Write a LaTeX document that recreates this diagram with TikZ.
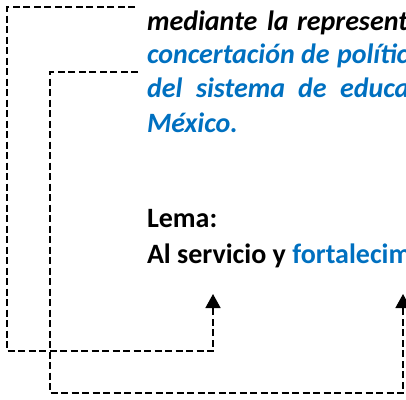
\documentclass[tikz,border=0pt]{standalone}
\usepackage{fontspec}
\setmainfont{Carlito}
\usetikzlibrary{arrows.meta}
\definecolor{wordblue}{HTML}{0070C0}

\tikzset{
  txt/.style={anchor=base west, inner sep=0pt, outer sep=0pt,
    font=\fontsize{28}{34}\selectfont\bfseries\itshape},
  lema/.style={txt, font=\fontsize{28}{34}\selectfont\bfseries},
  dline/.style={line width=1.5pt, dash pattern=on 7pt off 3.5pt,
    -{Triangle[length=14pt,width=15pt]}}
}

\begin{document}
\begin{tikzpicture}[x=1pt,y=-1pt]
      \useasboundingbox (0,0) rectangle (406,399);
      \clip (0,0) rectangle (406,399);
      % justified lines of the paragraph
      \foreach \x/\w [count=\i] in {147/mediante, 267/la, 297/representa}
        \node[txt] (a\i) at (\x,30) {\w};
      \foreach \x/\w [count=\i] in {147/concertación, 301/de, 337/política}
        \node[txt, text=wordblue] (b\i) at (\x,63) {\w};
      \foreach \x/\w [count=\i] in {147/del, 196/sistema, 298/de, 340/educa}
        \node[txt, text=wordblue] (c\i) at (\x,97) {\w};
      \node[txt, text=wordblue] (d1) at (147,132) {México.};
      % lema
      \node[lema] (lema) at (147,227) {Lema:};
      \node[lema] (serv) at (147,263) {Al servicio y \textcolor{wordblue}{fortalecim}};
      % connectors
      \coordinate (s1) at (135,7);
      \coordinate (s2) at (138,72);
      \coordinate (t1) at (213,294);
      \coordinate (t2) at (403,294);
      \draw[dline] (s1) -- (7,7) -- (7,351) -| (t1);
      \draw[dline] (s2) -- (50,72) -- (50,393) -| (t2);
    \end{tikzpicture}
\end{document}
